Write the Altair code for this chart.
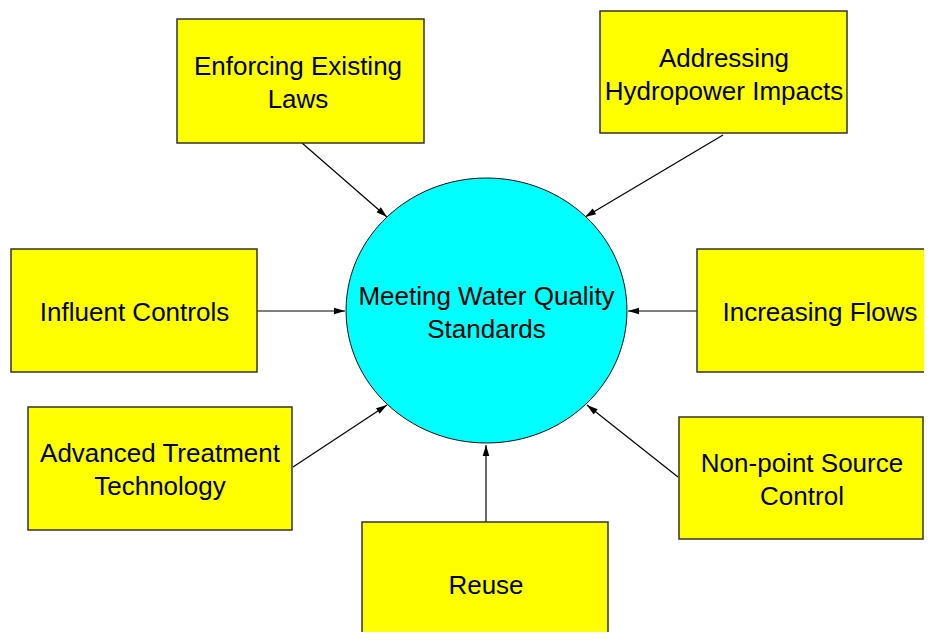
import math
import altair as alt
import pandas as pd

# Diagram nodes (pixel-like coordinates of the reference, y downward)
labels = ["Enforcing Existing\nLaws", "Addressing\nHydropower Impacts", "Influent Controls",
          "Increasing Flows", "Advanced Treatment\nTechnology", "Non-point Source\nControl", "Reuse"]
box_x1 = [177, 600, 11, 697, 28, 679, 362]
box_x2 = [424, 847, 257, 943, 292, 923, 608]
box_y1 = [19, 11, 249, 249, 407, 417, 522]
box_y2 = [143, 133, 372, 372, 530, 539, 648]
text_x = [298, 724, 134.5, 820, 160, 802, 486]
text_base_y = [75, 67, 321, 321, 462, 472, 594]  # baseline of first line

# Arrows (start on box edge, tip on circle)
arrow_x1 = [302, 723, 257, 697, 293, 678, 486]
arrow_y1 = [143, 135, 311, 311, 467, 477, 522]
arrow_x2 = [387, 585, 345, 628, 387, 587, 486]
arrow_y2 = [217, 217, 311, 311, 405, 405, 445]

center_label = "Meeting Water Quality\nStandards"
center_x = [486.5]
center_y = [310.5]
center_text_y = [305]

W, H = 916, 624
X0, Y0 = 8, 8
xs = alt.Scale(domain=[X0, X0 + W], zero=False, nice=False)
ys = alt.Scale(domain=[Y0, Y0 + H], reverse=True, zero=False, nice=False)
FONT = "Liberation Sans"
FS = 26
LH = 32.5

boxes = pd.DataFrame({"x1": box_x1, "x2": box_x2, "y1": box_y1, "y2": box_y2})
texts = pd.DataFrame({"label": labels, "x": text_x, "y": text_base_y})
arrows = pd.DataFrame({"x1": arrow_x1, "y1": arrow_y1, "x2": arrow_x2, "y2": arrow_y2})

head_len = 5.5
heads = []
for a, b, c, d in zip(arrow_x1, arrow_y1, arrow_x2, arrow_y2):
    dx, dy = c - a, d - b
    L = math.hypot(dx, dy)
    ux, uy = dx / L, dy / L
    ang = math.degrees(math.atan2(dx, -dy)) % 360
    heads.append({"x": c - ux * head_len, "y": d - uy * head_len, "ang": ang})
heads = pd.DataFrame(heads)

circ = pd.DataFrame({"x": center_x, "y": center_y})
ctext = pd.DataFrame({"label": [center_label], "x": center_x, "y": center_text_y})

noax = dict(axis=None)

rects = alt.Chart(boxes).mark_rect(fill="#FFFF00", stroke="#333333", strokeWidth=1.5, clip=True).encode(
    x=alt.X("x1:Q", scale=xs, **noax), x2="x2:Q",
    y=alt.Y("y1:Q", scale=ys, **noax), y2="y2:Q")

lines = alt.Chart(arrows).mark_rule(color="black", strokeWidth=1.2).encode(
    x=alt.X("x1:Q", scale=xs, **noax), x2="x2:Q",
    y=alt.Y("y1:Q", scale=ys, **noax), y2="y2:Q")

ellipse_path = "M-1.06,0A1.06,1 0 1,1 1.06,0A1.06,1 0 1,1 -1.06,0Z"
circle = alt.Chart(circ).mark_point(shape=ellipse_path, size=265 * 265, filled=True,
                                    fill="#00FFFF", stroke="#111111", strokeWidth=1,
                                    opacity=1).encode(
    x=alt.X("x:Q", scale=xs, **noax), y=alt.Y("y:Q", scale=ys, **noax))

tri = "M0,-1L-0.6,1L0.6,1Z"
arrowheads = alt.Chart(heads).mark_point(shape=tri, size=121, filled=True, fill="black",
                                         opacity=1, strokeWidth=0).encode(
    x=alt.X("x:Q", scale=xs, **noax), y=alt.Y("y:Q", scale=ys, **noax),
    angle=alt.Angle("ang:Q", scale=None))

box_text = alt.Chart(texts).mark_text(font=FONT, fontSize=FS, lineBreak="\n", lineHeight=LH,
                                      align="center", baseline="alphabetic", color="black").encode(
    x=alt.X("x:Q", scale=xs, **noax), y=alt.Y("y:Q", scale=ys, **noax), text="label:N")

center_text = alt.Chart(ctext).mark_text(font=FONT, fontSize=FS, lineBreak="\n", lineHeight=LH,
                                         align="center", baseline="alphabetic", color="black").encode(
    x=alt.X("x:Q", scale=xs, **noax), y=alt.Y("y:Q", scale=ys, **noax), text="label:N")

chart = alt.layer(lines, rects, circle, arrowheads, box_text, center_text).properties(
    width=W, height=H, padding=0, autosize=alt.AutoSizeParams(type="none"),
    background="white"
).configure_view(stroke=None)

chart.save("out.html", embed_options={"renderer": "svg", "actions": False})
